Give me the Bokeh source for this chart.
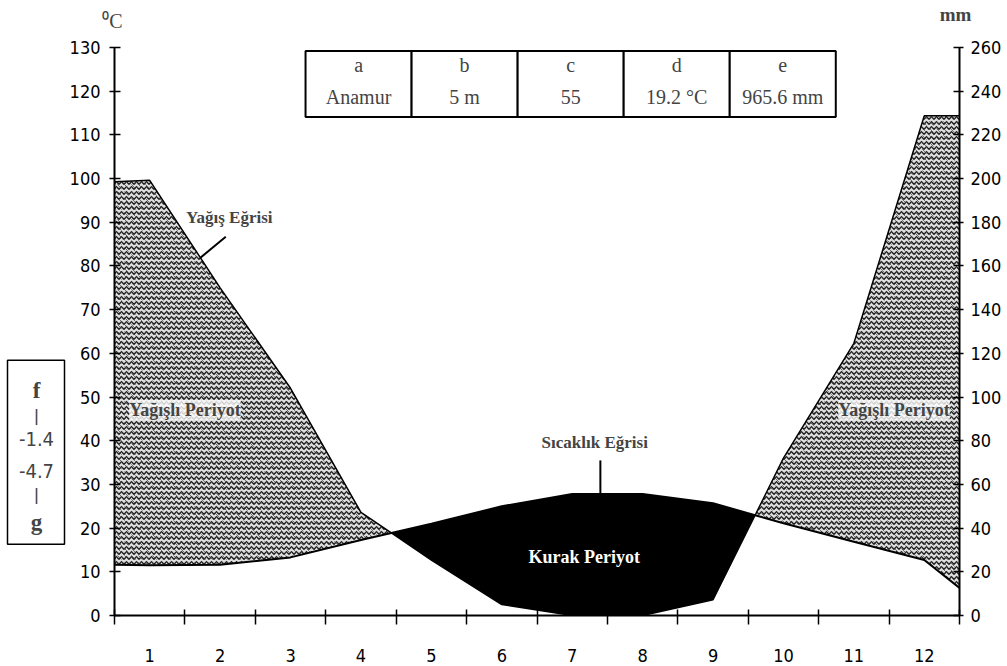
import numpy as np
from bokeh.plotting import figure
from bokeh.layouts import column, row
from bokeh.models import Range1d, LinearAxis, FixedTicker, Label, BoxAnnotation
from bokeh.embed import file_html
from bokeh.resources import INLINE

# ---------------- data ----------------
months = [1, 2, 3, 4, 5, 6, 7, 8, 9, 10, 11, 12]
month_labels = ["1", "2", "3", "4", "5", "6", "7", "8", "9", "10", "11", "12"]
temp_c = [11.5, 11.6, 13.3, 17.3, 21.0, 25.0, 27.8, 27.8, 25.7, 21.1, 16.9, 12.7]
precip_mm = [199.2, 150.0, 104.0, 47.2, 25.4, 5.0, 0.0, 0.0, 7.2, 72.0, 124.6, 228.8]
edge_x = [0.5, 12.5]
edge_temp_c = [11.6, 6.3]
edge_precip_mm = [198.6, 228.8]

temp_ticks = list(range(0, 131, 10))
precip_ticks = list(range(0, 261, 20))

table_heads = ["a", "b", "c", "d", "e"]
table_vals = ["Anamur", "5 m", "55", "19.2 \u00b0C", "965.6 mm"]
side_lines = ["f", "|", "-1.4", "-4.7", "|", "g"]

# ---------------- derived series ----------------
x = np.array([edge_x[0]] + months + [edge_x[1]], dtype=float)
T = np.array([edge_temp_c[0]] + temp_c + [edge_temp_c[1]], dtype=float)
P = np.array([edge_precip_mm[0]] + precip_mm + [edge_precip_mm[1]], dtype=float) / 2.0

xs, Ts, Ps = [x[0]], [T[0]], [P[0]]
for i in range(len(x) - 1):
    d0, d1 = P[i] - T[i], P[i + 1] - T[i + 1]
    if d0 * d1 < 0:
        f = d0 / (d0 - d1)
        xc = x[i] + f * (x[i + 1] - x[i])
        tc = T[i] + f * (T[i + 1] - T[i])
        xs.append(xc); Ts.append(tc); Ps.append(tc)
    xs.append(x[i + 1]); Ts.append(T[i + 1]); Ps.append(P[i + 1])
xs, Ts, Ps = np.array(xs), np.array(Ts), np.array(Ps)

NARROW = "DejaVu Sans Condensed, Roboto Condensed, Roboto, sans-serif"
SERIF = "Liberation Serif"
TICK_FS = "18px"

TOP_H = 35
LEFT_W = 66
FRAME_W, FRAME_H = 845, 568
B_LEFT, B_TOP, B_BOTTOM, B_RIGHT = 47, 12, 48, 38
MAIN_H = B_TOP + FRAME_H + B_BOTTOM
TOTAL_W = LEFT_W + B_LEFT + FRAME_W + B_RIGHT


def blank(w, h, y_range):
    f = figure(width=w, height=h, x_range=Range1d(0, w), y_range=y_range,
               output_backend="svg", toolbar_location=None,
               x_axis_type=None, y_axis_type=None, min_border=0)
    f.outline_line_color = None
    f.xgrid.visible = False
    f.ygrid.visible = False
    return f


# ---------------- top strip: axis units ----------------
top = blank(TOTAL_W, TOP_H, Range1d(0, TOP_H))
top.add_layout(Label(x=LEFT_W + B_LEFT - 1, y=TOP_H - 20, text="\u2070C", text_font=SERIF,
                     text_font_size="20px", text_align="center", text_baseline="middle"))
top.add_layout(Label(x=LEFT_W + B_LEFT + FRAME_W - 3, y=TOP_H - 14, text="mm", text_font=SERIF,
                     text_font_style="bold", text_font_size="19px",
                     text_align="center", text_baseline="middle"))

# ---------------- main chart ----------------
p = figure(frame_width=FRAME_W, frame_height=FRAME_H,
           x_range=Range1d(0.5, 12.5), y_range=Range1d(0, 130),
           output_backend="svg", toolbar_location=None,
           min_border_left=B_LEFT, min_border_right=B_RIGHT,
           min_border_top=B_TOP, min_border_bottom=B_BOTTOM)
p.outline_line_color = None
p.xgrid.visible = False
p.ygrid.visible = False

# ---------------- left box (frame shares the temperature scale) ----------------
left = blank(LEFT_W, MAIN_H, p.y_range)
left.add_layout(BoxAnnotation(left=7, right=64, bottom=16.1, top=58.3,
                              fill_color="white", fill_alpha=1.0,
                              line_color="black", line_alpha=1.0, line_width=1.5))
side_y = [51.3, 45.6, 40.3, 32.8, 27.3, 21.2]
for s, yy in zip(side_lines, side_y):
    if s in ("f", "g"):
        kw = dict(text_font=SERIF, text_font_style="bold", text_font_size="23px")
    elif s == "|":
        kw = dict(text_font=NARROW, text_font_style="bold", text_font_size="15px")
    else:
        kw = dict(text_font=NARROW, text_font_size="20px")
    left.add_layout(Label(x=36, y=yy, text=s, text_align="center",
                          text_baseline="middle", **kw))

# humid (hatched) area
p.varea(x=xs, y1=Ts, y2=np.maximum(Ps, Ts), fill_color="#dedede",
        hatch_pattern="horizontal_wave", hatch_color="#202020",
        hatch_scale=5, hatch_weight=1.4)
p.varea(x=xs, y1=Ts, y2=np.maximum(Ps, Ts), fill_alpha=0,
        hatch_pattern="left_diagonal_dash", hatch_color="#404040",
        hatch_scale=7, hatch_weight=1.0, hatch_alpha=0.7)
# arid (black) area
p.varea(x=xs, y1=np.minimum(Ps, Ts), y2=Ts, fill_color="black")
p.line(xs, Ps, line_color="black", line_width=1.5)
p.line(xs, Ts, line_color="black", line_width=2)

xa = p.xaxis[0]
xa.ticker = FixedTicker(ticks=months, minor_ticks=[m - 0.5 for m in months] + [12.5])
xa.major_label_overrides = {m: s for m, s in zip(months, month_labels)}
xa.major_tick_out = 0
xa.major_tick_in = 0
xa.minor_tick_in = 6
xa.minor_tick_out = 9
xa.minor_tick_line_width = 1.5
xa.minor_tick_line_color = "black"
xa.axis_line_width = 2
xa.major_label_standoff = 24
xa.major_label_text_font = NARROW
xa.major_label_text_font_size = TICK_FS
xa.major_label_text_color = "black"

ya = p.yaxis[0]
ya.ticker = FixedTicker(ticks=temp_ticks)
ya.major_tick_in = 6
ya.major_tick_out = 5
ya.minor_tick_line_color = None
ya.axis_line_width = 2
ya.major_tick_line_width = 1.5
ya.major_label_standoff = 9
ya.major_label_text_font = NARROW
ya.major_label_text_font_size = TICK_FS
ya.major_label_text_color = "black"

p.extra_y_ranges = {"mm": Range1d(0, 260)}
ra = LinearAxis(y_range_name="mm", ticker=FixedTicker(ticks=precip_ticks))
ra.major_tick_in = 6
ra.major_tick_out = 4
ra.minor_tick_line_color = None
ra.axis_line_width = 2
ra.major_tick_line_width = 1.5
ra.major_label_standoff = 7
ra.major_label_text_font = NARROW
ra.major_label_text_font_size = TICK_FS
ra.major_label_text_color = "black"
p.add_layout(ra, "right")

# table
cell_w = 1.506
x0 = 3.213
for i, (h, v) in enumerate(zip(table_heads, table_vals)):
    lft = x0 + i * cell_w
    p.add_layout(BoxAnnotation(left=lft, right=lft + cell_w, bottom=114.1, top=129.2,
                               fill_color="white", fill_alpha=1.0,
                               line_color="black", line_alpha=1.0, line_width=2))
    cx = lft + cell_w / 2
    p.add_layout(Label(x=cx, y=126.0, text=h, text_font=SERIF, text_font_size="20px",
                       text_align="center", text_baseline="middle"))
    p.add_layout(Label(x=cx, y=118.6, text=v, text_font=SERIF, text_font_size="20px",
                       text_align="center", text_baseline="middle"))

# annotations
bold_serif = dict(text_font=SERIF, text_font_style="bold", text_align="center", text_baseline="middle")
p.add_layout(Label(x=2.13, y=91.1, text="Ya\u011f\u0131\u015f E\u011frisi", text_font_size="17px", **bold_serif))
xp = 1.72
p.segment(x0=[2.08], y0=[86.7], x1=[xp], y1=[np.interp(xp, xs, Ps)], line_color="black", line_width=2)

p.add_layout(Label(x=7.32, y=39.5, text="S\u0131cakl\u0131k E\u011frisi", text_font_size="17px", **bold_serif))
xt = 7.40
p.segment(x0=[xt], y0=[35.5], x1=[xt], y1=[np.interp(xt, xs, Ts)], line_color="black", line_width=2)

p.add_layout(Label(x=7.17, y=13.4, text="Kurak Periyot", text_font_size="18px",
                   text_color="white", **bold_serif))
for lx in (1.5, 11.57):
    p.add_layout(Label(x=lx, y=47.0, text="Ya\u011f\u0131\u015fl\u0131 Periyot", text_font_size="18px",
                       background_fill_color="white", background_fill_alpha=0.8, **bold_serif))

layout = column(top, row(left, p, spacing=0), spacing=0)
open("out.html", "w").write(file_html(layout, INLINE))
